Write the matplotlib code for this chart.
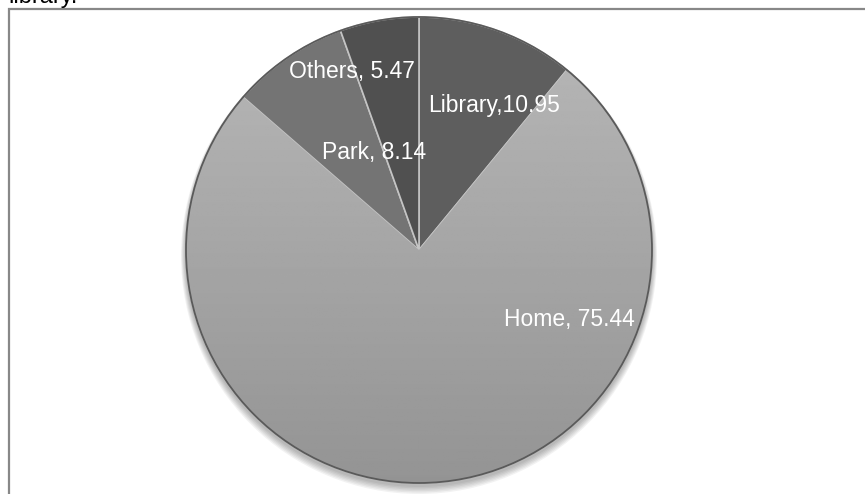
import matplotlib.pyplot as plt
import numpy as np
from matplotlib.patches import Rectangle, Circle

places = ['Library', 'Home', 'Park', 'Others']
shares = [10.95, 75.44, 8.14, 5.47]
label_text = ['Library,10.95', 'Home, 75.44', 'Park, 8.14', 'Others, 5.47']

colors = ['#5e5e5e', '#a9a9a9', '#747474', '#505050']
# label spots: angle in degrees and distance as a fraction of the radius
label_angle = [62.6, -24.9, 115.0, 110.7]
label_dist = [0.70, 0.71, 0.46, 0.82]

W, H = 865, 494
fig = plt.figure(figsize=(W / 100, H / 100), dpi=100)
ax = fig.add_axes([0, 0, 1, 1])

cx, cy, r = 419, 244, 233

# soft shadow under the pie
for k in range(6):
    ax.add_patch(Circle((cx, cy - 3 - k * 0.6), r + 1 + k * 0.8, color='k',
                        alpha=0.05, lw=0, zorder=0))

wedges, _ = ax.pie(shares, colors=colors, startangle=90, counterclock=False,
                   center=(cx, cy), radius=r,
                   wedgeprops=dict(edgecolor='#c4c4c4', linewidth=1.2))
for w in wedges:
    w.set_zorder(1)

# vertical shading on the big slice
grad = np.linspace(0.72, 0.58, 200)[:, None] * np.ones((1, 2))
img = ax.imshow(grad, cmap='gray', vmin=0, vmax=1, aspect='auto',
                extent=(cx - r, cx + r, cy - r, cy + r), zorder=2)
img.set_clip_path(wedges[1])

# darker rim around the pie
ax.add_patch(Circle((cx, cy), r, fill=False, ec='#5a5a5a', lw=1.3, zorder=3))

for lab, a, d in zip(label_text, label_angle, label_dist):
    t = np.deg2rad(a)
    ax.text(cx + d * r * np.cos(t), cy + d * r * np.sin(t), lab,
            color='white', fontsize=16.5, ha='center', va='center', zorder=5,
            family=['Liberation Sans', 'DejaVu Sans'])

# chart frame, running off the right and bottom edges
ax.add_patch(Rectangle((9, -20), 900, H - 9.5 + 20, fill=False,
                       ec='#888888', lw=1.6, zorder=6))

ax.set_xlim(0, W)
ax.set_ylim(0, H)
ax.axis('off')

fig.text(8 / W, (H - 2.5) / H, 'library.', fontsize=17, va='baseline',
         family=['Liberation Sans', 'DejaVu Sans'])

fig.savefig('out.png', dpi=100)
